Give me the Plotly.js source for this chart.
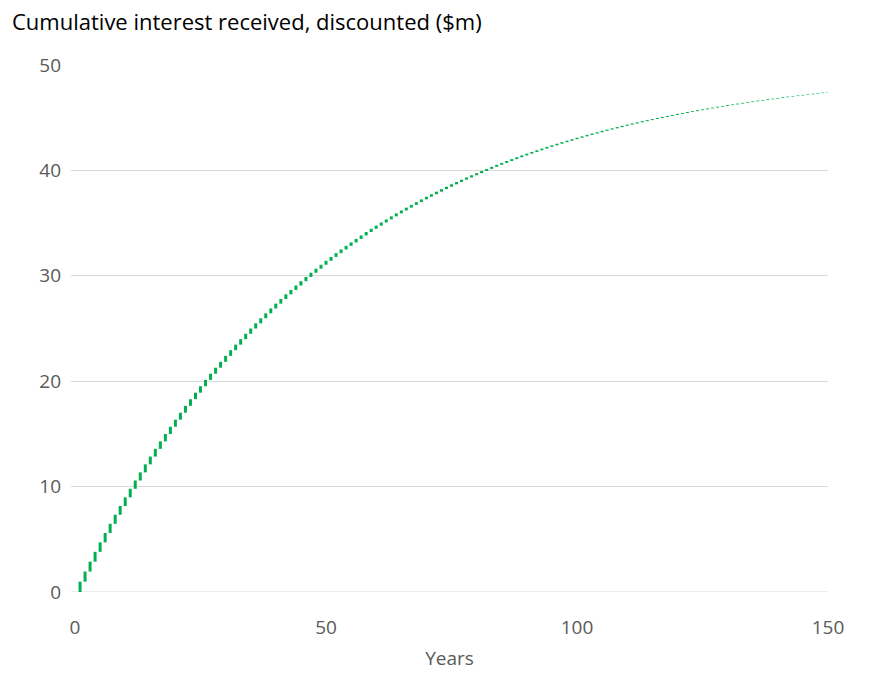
<!DOCTYPE html>
<html>
<head>
<meta charset="utf-8">
<script src="https://cdn.plot.ly/plotly-3.0.1.min.js"></script>
<style>html,body{margin:0;padding:0;background:#fff;}#chart{width:876px;height:694px;}</style>
</head>
<body>
<div id="chart"></div>
<script>
// Years 1..150
const years = Array.from({length: 150}, (_, i) => i + 1);
// Cumulative interest received, discounted ($m)
const cumulative = [
  0.98, 1.94, 2.88, 3.81, 4.71, 5.60, 6.47, 7.33, 8.16, 8.98,
  9.79, 10.58, 11.35, 12.11, 12.85, 13.58, 14.29, 14.99, 15.68, 16.35,
  17.01, 17.66, 18.29, 18.91, 19.52, 20.12, 20.71, 21.28, 21.84, 22.40,
  22.94, 23.47, 23.99, 24.50, 25.00, 25.49, 25.97, 26.44, 26.90, 27.36,
  27.80, 28.24, 28.66, 29.08, 29.49, 29.89, 30.29, 30.67, 31.05, 31.42,
  31.79, 32.15, 32.50, 32.84, 33.17, 33.50, 33.83, 34.15, 34.46, 34.76,
  35.06, 35.35, 35.64, 35.92, 36.20, 36.47, 36.73, 36.99, 37.25, 37.50,
  37.74, 37.98, 38.22, 38.45, 38.68, 38.90, 39.12, 39.33, 39.54, 39.74,
  39.95, 40.14, 40.34, 40.53, 40.71, 40.89, 41.07, 41.25, 41.42, 41.59,
  41.75, 41.91, 42.07, 42.23, 42.38, 42.53, 42.68, 42.82, 42.96, 43.10,
  43.23, 43.37, 43.50, 43.62, 43.75, 43.87, 43.99, 44.11, 44.23, 44.34,
  44.45, 44.56, 44.67, 44.77, 44.87, 44.97, 45.07, 45.17, 45.26, 45.36,
  45.45, 45.54, 45.62, 45.71, 45.79, 45.88, 45.96, 46.04, 46.11, 46.19,
  46.26, 46.34, 46.41, 46.48, 46.55, 46.62, 46.68, 46.75, 46.81, 46.87,
  46.94, 47.00, 47.05, 47.11, 47.17, 47.22, 47.28, 47.33, 47.38, 47.44
];
const xTicks = [0, 50, 100, 150];
const yTicks = [0, 10, 20, 30, 40, 50];

// Each year drawn as a short vertical step from previous cumulative value to current one
const segX = [], segY = [];
for (let i = 0; i < years.length; i++) {
  const prev = i === 0 ? 0 : cumulative[i - 1];
  segX.push(years[i], years[i], null);
  segY.push(prev, cumulative[i], null);
}

const trace = {
  x: segX, y: segY, type: 'scatter', mode: 'lines',
  line: {color: '#00B050', width: 3},
  connectgaps: false, hoverinfo: 'skip', showlegend: false
};

const tickFont = {family: 'Open Sans, sans-serif', size: 19, color: '#595959'};
const layout = {
  width: 876, height: 694,
  paper_bgcolor: '#fff', plot_bgcolor: '#fff',
  margin: {l: 71, r: 48, t: 65, b: 102},
  title: {
    text: 'Cumulative interest received, discounted ($m)',
    font: {family: 'Open Sans, sans-serif', size: 22, color: '#000'},
    xref: 'container', yref: 'container',
    x: 12/876, xanchor: 'left', y: 1 - 22/694, yanchor: 'middle'
  },
  xaxis: {
    range: [-0.8, 150], tickvals: xTicks, ticktext: xTicks.map(String),
    showgrid: false, zeroline: false, showline: false, ticks: '',
    tickfont: tickFont, ticklabelstandoff: 22,
    title: {text: 'Years', font: tickFont, standoff: 12}
  },
  yaxis: {
    range: [0, 50], tickvals: yTicks, ticktext: yTicks.map(String),
    showgrid: true, gridcolor: '#d9d9d9', gridwidth: 1,
    zeroline: false, showline: false, ticks: '',
    tickfont: tickFont, ticklabelstandoff: 9
  },
  shapes: [
    {type: 'line', xref: 'paper', yref: 'y', x0: 0, x1: 1, y0: 0, y1: 0, line: {color: '#d9d9d9', width: 1}, layer: 'below'}
  ]
};

Plotly.newPlot('chart', [trace], layout, {displayModeBar: false, staticPlot: true});
</script>
</body>
</html>
